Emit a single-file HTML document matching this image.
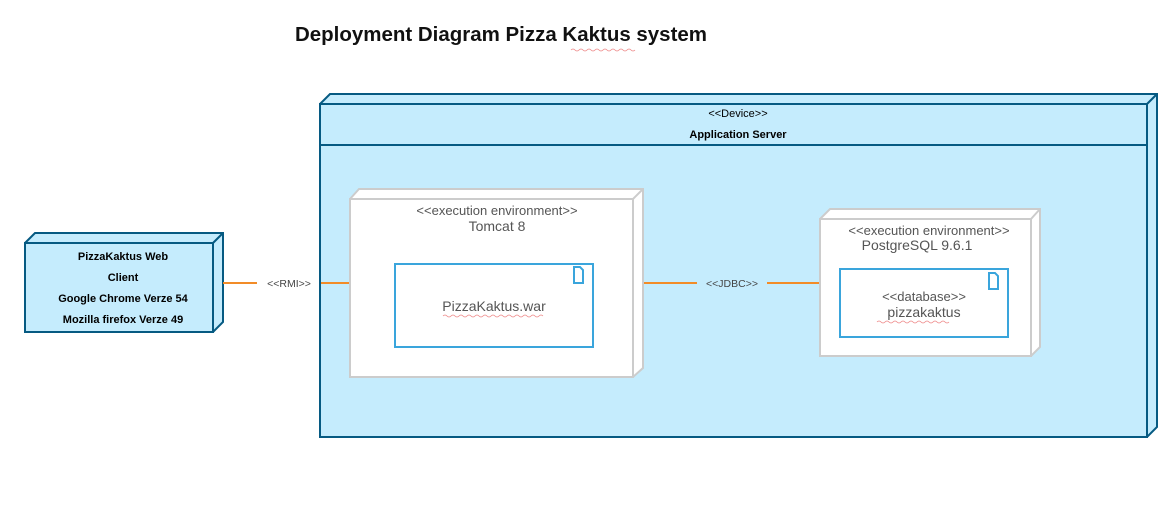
<!DOCTYPE html>
<html><head><meta charset="utf-8"><style>
html,body{margin:0;padding:0;background:#fff;width:1165px;height:530px;overflow:hidden}
svg{display:block}
</style></head><body>
<svg width="1165" height="530" xmlns="http://www.w3.org/2000/svg" font-family="Liberation Sans, sans-serif">
<rect width="1165" height="530" fill="#fff"/>
<text x="295" y="41" font-size="20" font-weight="bold" fill="#111" textLength="412" lengthAdjust="spacingAndGlyphs">Deployment Diagram Pizza Kaktus system</text>
<path d="M571 50 q2 -2 4 0 t4 0 t4 0 t4 0 t4 0 t4 0 t4 0 t4 0 t4 0 t4 0 t4 0 t4 0 t4 0 t4 0 t4 0 t4 0" fill="none" stroke="#e88" stroke-width="0.8"/>

<!-- Application server -->
<g stroke="#065a82" stroke-width="2" fill="#c5ecfd">
<polygon points="320,104 330,94 1157,94 1157,427 1147,437 320,437"/>
<rect x="320" y="104" width="827" height="333"/>
<line x1="1147" y1="104" x2="1157" y2="94"/>
<line x1="320" y1="145" x2="1147" y2="145"/>
</g>
<text x="738" y="117" font-size="11" text-anchor="middle" fill="#000">&lt;&lt;Device&gt;&gt;</text>
<text x="738" y="138" font-size="11" font-weight="bold" text-anchor="middle" fill="#000">Application Server</text>

<!-- Client -->
<g stroke="#065a82" stroke-width="2" fill="#c5ecfd">
<polygon points="25,243 35,233 223,233 223,322 213,332 25,332"/>
<rect x="25" y="243" width="188" height="89"/>
<line x1="213" y1="243" x2="223" y2="233"/>
</g>
<g font-size="11" font-weight="bold" text-anchor="middle" fill="#000">
<text x="123" y="260">PizzaKaktus Web</text>
<text x="123" y="281">Client</text>
<text x="123" y="302">Google Chrome Verze 54</text>
<text x="123" y="323">Mozilla firefox Verze 49</text>
</g>

<!-- connectors -->
<g stroke="#f28c28" stroke-width="2">
<line x1="223" y1="283" x2="257" y2="283"/>
<line x1="321" y1="283" x2="350" y2="283"/>
<line x1="643" y1="283" x2="697" y2="283"/>
<line x1="767" y1="283" x2="820" y2="283"/>
</g>
<text x="289" y="287" font-size="10.5" text-anchor="middle" fill="#444">&lt;&lt;RMI&gt;&gt;</text>
<text x="732" y="287" font-size="10.5" text-anchor="middle" fill="#444">&lt;&lt;JDBC&gt;&gt;</text>

<!-- Tomcat -->
<g stroke="#cccccc" stroke-width="2" fill="#fff">
<polygon points="350,199 359,189 643,189 643,368 633,377 350,377"/>
<rect x="350" y="199" width="283" height="178"/>
<line x1="633" y1="199" x2="643" y2="189"/>
</g>
<text x="497" y="215" font-size="13" text-anchor="middle" fill="#555">&lt;&lt;execution environment&gt;&gt;</text>
<text x="497" y="231" font-size="14" text-anchor="middle" fill="#555">Tomcat 8</text>
<rect x="395" y="264" width="198" height="83" fill="#fff" stroke="#3aa5dc" stroke-width="2"/>
<path d="M574 267 h6 l3 3 v13 h-9 z" fill="#fff" stroke="#3aa5dc" stroke-width="2"/>
<text x="494" y="311" font-size="14" text-anchor="middle" fill="#555">PizzaKaktus.war</text>
<path d="M443 316 q2 -2 4 0 t4 0 t4 0 t4 0 t4 0 t4 0 t4 0 t4 0 t4 0 t4 0 t4 0 t4 0 t4 0 t4 0 t4 0 t4 0 t4 0 t4 0 t4 0 t4 0 t4 0 t4 0 t4 0 t4 0 t4 0" fill="none" stroke="#e88" stroke-width="0.8"/>

<!-- Postgres -->
<g stroke="#cccccc" stroke-width="2" fill="#fff">
<polygon points="820,219 830,209 1040,209 1040,347 1031,356 820,356"/>
<rect x="820" y="219" width="211" height="137"/>
<line x1="1031" y1="219" x2="1040" y2="209"/>
</g>
<text x="929" y="235" font-size="13" text-anchor="middle" fill="#555">&lt;&lt;execution environment&gt;&gt;</text>
<text x="917" y="250" font-size="14" text-anchor="middle" fill="#555">PostgreSQL 9.6.1</text>
<rect x="840" y="269" width="168" height="68" fill="#fff" stroke="#3aa5dc" stroke-width="2"/>
<path d="M989 273 h6 l3 3 v13 h-9 z" fill="#fff" stroke="#3aa5dc" stroke-width="2"/>
<text x="924" y="301" font-size="13" text-anchor="middle" fill="#555">&lt;&lt;database&gt;&gt;</text>
<text x="924" y="317" font-size="14" text-anchor="middle" fill="#555">pizzakaktus</text>
<path d="M877 322 q2 -2 4 0 t4 0 t4 0 t4 0 t4 0 t4 0 t4 0 t4 0 t4 0 t4 0 t4 0 t4 0 t4 0 t4 0 t4 0 t4 0 t4 0 t4 0" fill="none" stroke="#e88" stroke-width="0.8"/>
</svg>
</body></html>
